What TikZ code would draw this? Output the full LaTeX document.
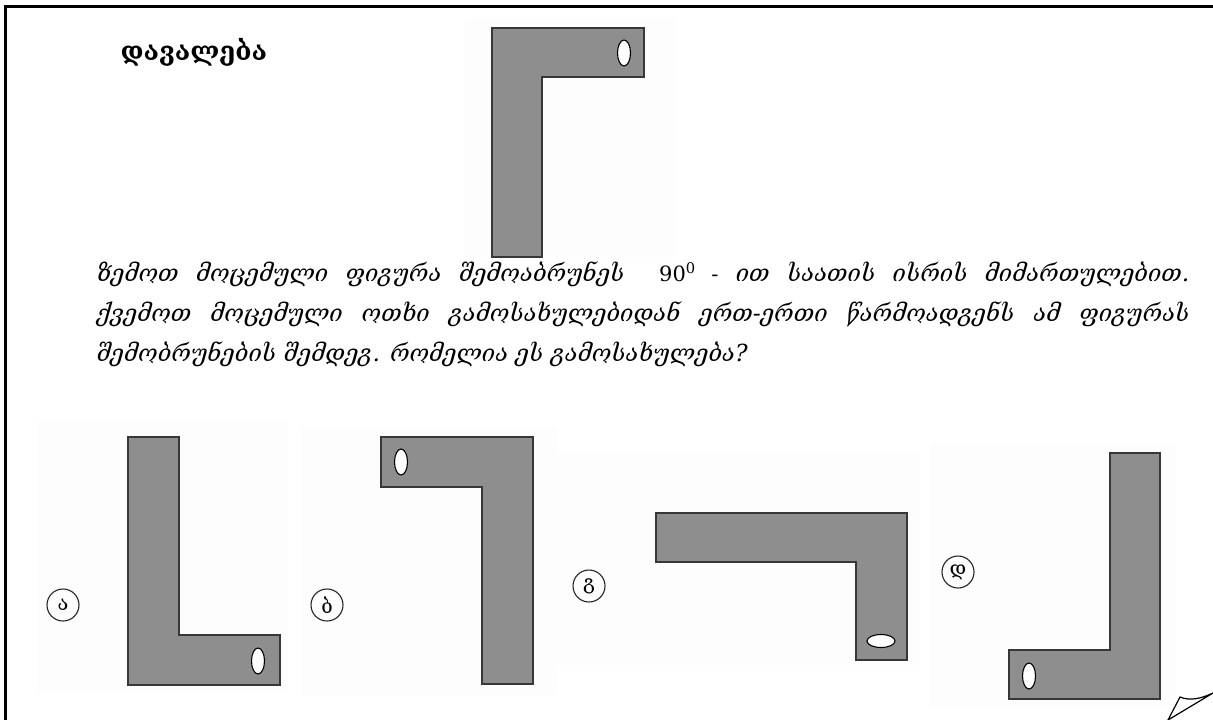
\documentclass[tikz,border=0pt]{standalone}
\usepackage{fontspec}
\setmainfont{Liberation Serif}
\newfontfamily\geofont{DejaVu Serif}
\definecolor{piecegray}{RGB}{142,142,142}
\definecolor{edgegray}{RGB}{55,55,55}
\tikzset{
  piece/.style={fill=piecegray, draw=edgegray, line width=1.3pt},
  hole/.style={fill=white, draw=black, line width=1.1pt},
  photo/.style={fill=black!0.8, draw=none},
  choice/.style={draw=black!85, circle, line width=1.1pt, minimum size=32pt,
    inner sep=0pt, font={\geofont\fontsize{20}{20}\selectfont}},
  qline/.style={anchor=west, font={\geofont\itshape\fontsize{23.5}{23.5}\selectfont}}
}
\begin{document}
\begin{tikzpicture}[x=1pt,y=-1pt]
\useasboundingbox (0,0) rectangle (1213,720);

\draw[line width=2.6pt] (5.5,720) -- (5.5,6.5) -- (1213,6.5);

\node [anchor=west, font={\geofont\bfseries\fontsize{26}{26}\selectfont}] (title)
 at (117,52) {დავალება};

\fill[photo] (465,18) rectangle (675,257);
\draw[piece] (492,28) -- (644,28) -- (644,77) -- (542,77) -- (542,257) -- (492,257) -- cycle;
\draw[hole] (624,53) ellipse [x radius=6.5, y radius=13];

\node [qline] (line1)
 at (93,274) {\makebox[1093pt][s]{ზემოთ მოცემული ფიგურა შემოაბრუნეს \ {\upshape\fontsize{21}{21}\selectfont 90\textsuperscript{0} -} ით საათის ისრის მიმართულებით.}};
\node [qline] (line2)
 at (93,314) {\makebox[1093pt][s]{ქვემოთ მოცემული ოთხი გამოსახულებიდან ერთ-ერთი წარმოადგენს ამ ფიგურას}};
\node [qline] (line3)
 at (93,354) {შემობრუნების შემდეგ. რომელია ეს გამოსახულება?};

\fill[photo] (38,420) rectangle (288,693);
\draw[piece] (128,437) -- (179,437) -- (179,635) -- (280,635) -- (280,685) -- (128,685) -- cycle;
\draw[hole] (258,661) ellipse [x radius=6.5, y radius=13];
\node [choice] (opt-a) at (63,605) {ა};

\fill[photo] (302,427) rectangle (557,695);
\draw[piece] (381,437) -- (533,437) -- (533,684) -- (482,684) -- (482,487) -- (381,487) -- cycle;
\draw[hole] (401,462) ellipse [x radius=6.5, y radius=13];
\node [choice] (opt-b) at (327,605) {ბ};

\fill[photo] (553,452) rectangle (920,665);
\draw[piece] (656,513) -- (907,513) -- (907,660) -- (856,660) -- (856,562) -- (656,562) -- cycle;
\draw[hole] (881,641) ellipse [x radius=14, y radius=6.5];
\node [choice] (opt-c) at (589,586) {გ};

\fill[photo] (930,443) rectangle (1175,707);
\draw[piece] (1110,453) -- (1160,453) -- (1160,699) -- (1009,699) -- (1009,650) -- (1110,650) -- cycle;
\draw[hole] (1029,676) ellipse [x radius=6.5, y radius=13];
\node [choice] (opt-d) at (958,572) {დ};

\draw[line width=1.2pt, line join=miter] (1168,720) -- (1180,697)
 .. controls (1190,701) and (1200,699) .. (1213,693) -- cycle;

\end{tikzpicture}
\end{document}
